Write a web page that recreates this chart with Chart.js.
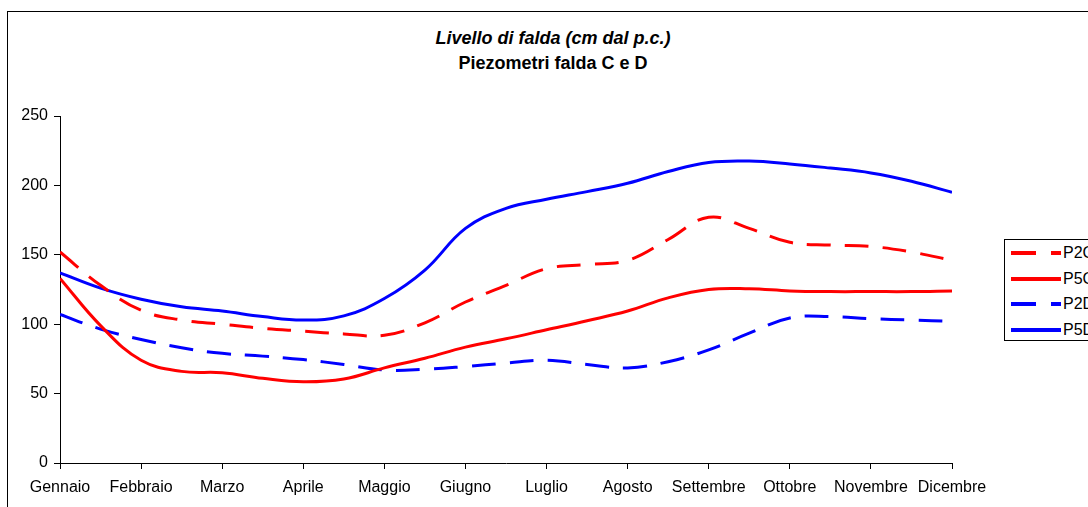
<!DOCTYPE html>
<html>
<head>
<meta charset="utf-8">
<title>Piezometri falda C e D</title>
<script src="https://cdn.jsdelivr.net/npm/chart.js@4.4.1/dist/chart.umd.min.js"></script>
<style>
    body { margin: 0; background: #fff; overflow: hidden; font-family: "Liberation Sans", Arial, sans-serif; }
    #frame { position: absolute; left: 7px; top: 11px; width: 1200px; height: 600px;
             border-left: 1px solid #000; border-top: 1px solid #000; }
    #wrap { position: absolute; left: 0; top: 0; width: 1088px; height: 507px; }
    .title { position: absolute; left: 0; width: 1106px; text-align: center; font-size: 18px; color: #000; }
    #t1 { top: 28px; font-style: italic; font-weight: bold; }
    #t2 { top: 53px; font-weight: bold; }
    #legend { position: absolute; left: 1004px; top: 239px; width: 130px; height: 100px;
              border: 1px solid #000; background: #fff; }
    .item { position: absolute; left: 5px; height: 20px; display: flex; align-items: center;
            font-size: 16px; color: #000; }
    .item svg { margin-right: 1px; }
</style>
</head>
<body>
<div id="frame"></div>
<div class="title" id="t1">Livello di falda (cm dal p.c.)</div>
<div class="title" id="t2">Piezometri falda C e D</div>
<div id="wrap"><canvas id="chart" width="1088" height="507"></canvas></div>
<div id="legend"></div>
<script>
// =============================
// DATA (cm dal piano campagna), letture ogni mezzo mese
// =============================
const months = ['Gennaio', 'Febbraio', 'Marzo', 'Aprile', 'Maggio', 'Giugno',
                'Luglio', 'Agosto', 'Settembre', 'Ottobre', 'Novembre', 'Dicembre'];
const positions = [0, 0.5, 1, 1.5, 2, 2.5, 3, 3.5, 4, 4.5, 5, 5.5,
                   6, 6.5, 7, 7.5, 8, 8.5, 9, 9.5, 10, 10.5, 11];
const yTicks = [0, 50, 100, 150, 200, 250];

const p2c = [152, 128, 110, 103, 100, 97, 95, 93, 92, 101, 116, 128,
             140, 143, 146, 161, 177, 169, 159, 157, 156, 152, 146];
const p5c = [133, 99, 74, 66, 65, 61, 58.5, 60.5, 68.5, 75.5, 83.5, 89.5,
             96, 102.5, 109.5, 119, 125, 125.5, 124, 123.5, 123.5, 123.5, 124];
const p2d = [107, 96.5, 89, 83, 79, 77, 74.5, 71, 67, 67.5, 69.5, 72,
             74, 71, 68.5, 73, 81.5, 93.5, 104.5, 105.5, 104, 103, 102];
const p5d = [137, 126, 118, 112.5, 109.5, 105.5, 103, 106, 118.5, 139, 169, 183.5,
             190, 195.5, 201.5, 210, 216.5, 217.5, 215.5, 212.5, 209, 203, 195];

const seriesNames = ['P2C', 'P5C', 'P2D', 'P5D'];
const seriesValues = [p2c, p5c, p2d, p5d];
const seriesColors = ['#ff0000', '#ff0000', '#0000ff', '#0000ff'];
const seriesDashed = [true, false, true, false];

const dashPattern = [24, 14];

const datasets = seriesNames.map((name, i) => ({
    label: name,
    data: positions.map((p, j) => ({ x: p, y: seriesValues[i][j] })),
    borderColor: seriesColors[i],
    backgroundColor: seriesColors[i],
    borderWidth: 3,
    borderDash: seriesDashed[i] ? dashPattern : [],
    pointRadius: 0,
    tension: 0.4,
    fill: false
}));

const tickFont = { family: '"Liberation Sans", Arial, sans-serif', size: 16 };

new Chart(document.getElementById('chart').getContext('2d'), {
    type: 'line',
    data: { datasets: datasets },
    options: {
        responsive: false,
        animation: false,
        layout: { padding: { left: 0, right: 136, top: 116, bottom: 0 } },
        plugins: { legend: { display: false }, title: { display: false }, tooltip: { enabled: false } },
        scales: {
            x: {
                type: 'linear',
                min: 0,
                max: 11,
                afterFit: (scale) => { scale.height = 44; },
                afterBuildTicks: (scale) => { scale.ticks = months.map((m, i) => ({ value: i })); },
                border: { display: true, color: '#000', width: 1 },
                grid: { display: true, drawOnChartArea: false, drawTicks: true, tickLength: 6, color: '#000' },
                ticks: {
                    color: '#000', font: tickFont, autoSkip: false, maxRotation: 0, padding: 9,
                    callback: (v) => months[v]
                }
            },
            y: {
                min: 0,
                max: 250,
                afterFit: (scale) => { scale.width = 60; },
                afterBuildTicks: (scale) => { scale.ticks = yTicks.map(v => ({ value: v })); },
                border: { display: true, color: '#000', width: 1 },
                grid: { display: true, drawOnChartArea: false, drawTicks: true, tickLength: 6, color: '#000' },
                ticks: { color: '#000', font: tickFont, padding: 6 }
            }
        }
    }
});

// legenda in HTML
const legend = document.getElementById('legend');
seriesNames.forEach((name, i) => {
    const row = document.createElement('div');
    row.className = 'item';
    row.style.top = (3 + i * 25.5) + 'px';
    const dash = seriesDashed[i] ? 'stroke-dasharray="25 15"' : '';
    row.innerHTML = `<svg width="52" height="8"><line x1="1" y1="4" x2="51" y2="4" stroke="${seriesColors[i]}" stroke-width="4" ${dash}/></svg>${name}`;
    legend.appendChild(row);
});
</script>
</body>
</html>
